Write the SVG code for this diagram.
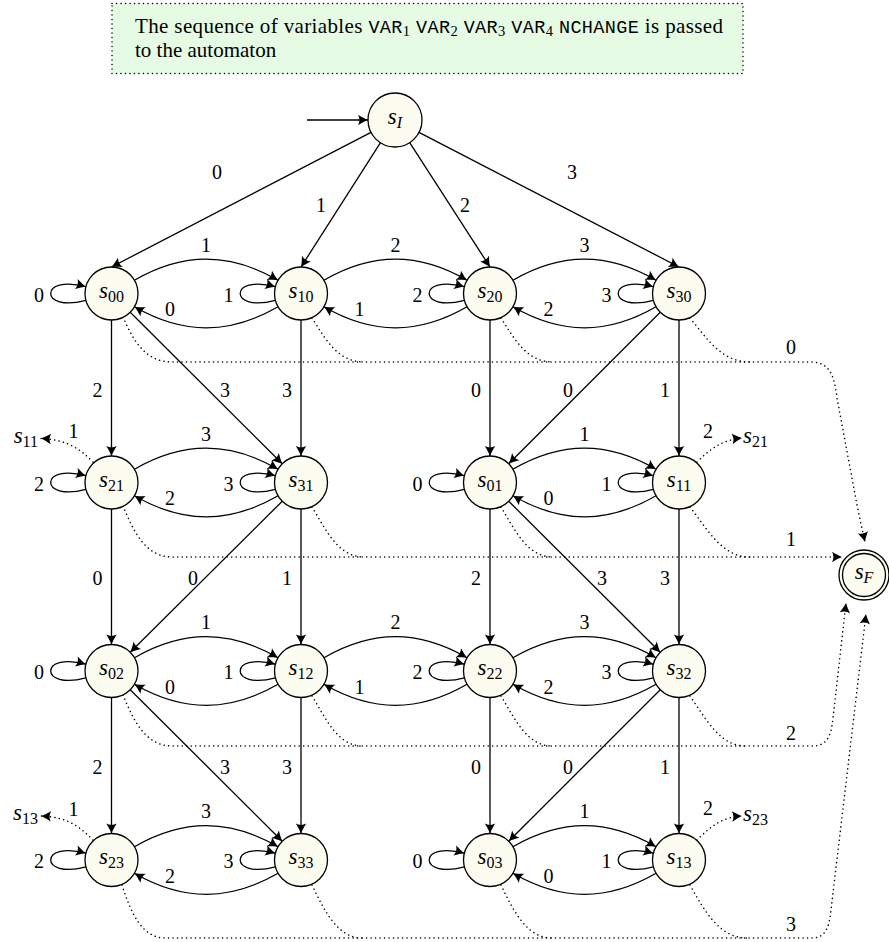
<svg xmlns="http://www.w3.org/2000/svg" width="889" height="942" viewBox="0 0 889 942" font-family="'Liberation Serif','Times New Roman','DejaVu Serif',serif">
<style>
.n{fill:#fcfcf0;stroke:#000;stroke-width:1.3}
.e{fill:none;stroke:#000;stroke-width:1.3;marker-end:url(#ar)}
.d{fill:none;stroke:#000;stroke-width:1.5;stroke-dasharray:0.1 4.4;stroke-linecap:round}
.da{marker-end:url(#ar)}
.l{font-family:'Liberation Serif','Times New Roman','DejaVu Serif',serif;font-size:20px;text-anchor:middle}
.nt{font-family:'Liberation Serif','Times New Roman','DejaVu Serif',serif;font-size:23px;font-style:italic;text-anchor:middle}
.sub{font-size:16px;font-style:normal}
.subi{font-size:16px;font-style:italic}
.bt{font-family:'Liberation Serif','Times New Roman','DejaVu Serif',serif;font-size:21px}
.tt{font-family:'Liberation Mono','Courier New','DejaVu Sans Mono',monospace;font-size:18.5px}
.ts{font-size:14.5px}
</style>
<defs>
<marker id="ar" markerUnits="userSpaceOnUse" orient="auto" markerWidth="14" markerHeight="14" viewBox="-11 -7 14 14" refX="0" refY="0" overflow="visible">
<path d="M0,0 C-2.8,-1 -6,-2.9 -10,-5.2 C-8.1,-2 -8.1,2 -10,5.2 C-6,2.9 -2.8,1 0,0 Z" fill="#000"/>
</marker>
</defs>

<g id="note">
<rect x="112" y="3.5" width="631" height="70" fill="#e5fbe3" stroke="#000" stroke-width="1.5" stroke-dasharray="0.1 4.4" stroke-linecap="round"/>
<text class="bt" x="135" y="32.5" textLength="588" lengthAdjust="spacing">The sequence of variables <tspan class="tt">VAR</tspan><tspan class="ts" dy="3">1</tspan><tspan dy="-3"> </tspan><tspan class="tt">VAR</tspan><tspan class="ts" dy="3">2</tspan><tspan dy="-3"> </tspan><tspan class="tt">VAR</tspan><tspan class="ts" dy="3">3</tspan><tspan dy="-3"> </tspan><tspan class="tt">VAR</tspan><tspan class="ts" dy="3">4</tspan><tspan dy="-3"> </tspan><tspan class="tt">NCHANGE</tspan> is passed</text>
<text class="bt" x="135" y="57">to the automaton</text>
</g>

<g id="connectors">
<path class="e" d="M307 120 L368 120"/>
<path class="e" d="M371 132.4 L111.5 267"/>
<path class="e" d="M380.5 142.7 L301 267"/>
<path class="e" d="M409.7 142.7 L490 267"/>
<path class="e" d="M419 132.4 L679 267"/>
<path class="e" d="M134.45 280.25 C183.15 252.15 229.35 252.15 278.05 280.25"/>
<path class="e" d="M278.05 306.75 C229.35 334.85 183.15 334.85 134.45 306.75"/>
<path class="e" d="M323.95 280.25 C372.65 252.15 418.35 252.15 467.05 280.25"/>
<path class="e" d="M467.05 306.75 C418.35 334.85 372.65 334.85 323.95 306.75"/>
<path class="e" d="M512.95 280.25 C561.65 252.15 607.35 252.15 656.05 280.25"/>
<path class="e" d="M656.05 306.75 C607.35 334.85 561.65 334.85 512.95 306.75"/>
<path class="e" d="M134.45 469.25 C183.15 441.15 229.35 441.15 278.05 469.25"/>
<path class="e" d="M278.05 495.75 C229.35 523.85 183.15 523.85 134.45 495.75"/>
<path class="e" d="M512.95 469.25 C561.65 441.15 607.35 441.15 656.05 469.25"/>
<path class="e" d="M656.05 495.75 C607.35 523.85 561.65 523.85 512.95 495.75"/>
<path class="e" d="M134.45 657.75 C183.15 629.65 229.35 629.65 278.05 657.75"/>
<path class="e" d="M278.05 684.25 C229.35 712.35 183.15 712.35 134.45 684.25"/>
<path class="e" d="M323.95 657.75 C372.65 629.65 418.35 629.65 467.05 657.75"/>
<path class="e" d="M467.05 684.25 C418.35 712.35 372.65 712.35 323.95 684.25"/>
<path class="e" d="M512.95 657.75 C561.65 629.65 607.35 629.65 656.05 657.75"/>
<path class="e" d="M656.05 684.25 C607.35 712.35 561.65 712.35 512.95 684.25"/>
<path class="e" d="M134.45 846.75 C183.15 818.65 229.35 818.65 278.05 846.75"/>
<path class="e" d="M278.05 873.25 C229.35 901.35 183.15 901.35 134.45 873.25"/>
<path class="e" d="M512.95 846.75 C561.65 818.65 607.35 818.65 656.05 846.75"/>
<path class="e" d="M656.05 873.25 C607.35 901.35 561.65 901.35 512.95 873.25"/>
<g class="loops">
<path class="e" transform="translate(111.5 293.5)" d="M-25.6 6.86 C-72.55 19.45 -72.55 -19.45 -25.6 -6.86"/>
<path class="e" transform="translate(301 293.5)" d="M-25.6 6.86 C-72.55 19.45 -72.55 -19.45 -25.6 -6.86"/>
<path class="e" transform="translate(490 293.5)" d="M-25.6 6.86 C-72.55 19.45 -72.55 -19.45 -25.6 -6.86"/>
<path class="e" transform="translate(679 293.5)" d="M-25.6 6.86 C-72.55 19.45 -72.55 -19.45 -25.6 -6.86"/>
<path class="e" transform="translate(111.5 482.5)" d="M-25.6 6.86 C-72.55 19.45 -72.55 -19.45 -25.6 -6.86"/>
<path class="e" transform="translate(301 482.5)" d="M-25.6 6.86 C-72.55 19.45 -72.55 -19.45 -25.6 -6.86"/>
<path class="e" transform="translate(490 482.5)" d="M-25.6 6.86 C-72.55 19.45 -72.55 -19.45 -25.6 -6.86"/>
<path class="e" transform="translate(679 482.5)" d="M-25.6 6.86 C-72.55 19.45 -72.55 -19.45 -25.6 -6.86"/>
<path class="e" transform="translate(111.5 671)" d="M-25.6 6.86 C-72.55 19.45 -72.55 -19.45 -25.6 -6.86"/>
<path class="e" transform="translate(301 671)" d="M-25.6 6.86 C-72.55 19.45 -72.55 -19.45 -25.6 -6.86"/>
<path class="e" transform="translate(490 671)" d="M-25.6 6.86 C-72.55 19.45 -72.55 -19.45 -25.6 -6.86"/>
<path class="e" transform="translate(679 671)" d="M-25.6 6.86 C-72.55 19.45 -72.55 -19.45 -25.6 -6.86"/>
<path class="e" transform="translate(111.5 860)" d="M-25.6 6.86 C-72.55 19.45 -72.55 -19.45 -25.6 -6.86"/>
<path class="e" transform="translate(301 860)" d="M-25.6 6.86 C-72.55 19.45 -72.55 -19.45 -25.6 -6.86"/>
<path class="e" transform="translate(490 860)" d="M-25.6 6.86 C-72.55 19.45 -72.55 -19.45 -25.6 -6.86"/>
<path class="e" transform="translate(679 860)" d="M-25.6 6.86 C-72.55 19.45 -72.55 -19.45 -25.6 -6.86"/>
</g>
<path class="e" d="M111.5 320 L111.5 456"/>
<path class="e" d="M301 320 L301 456"/>
<path class="e" d="M490 320 L490 456"/>
<path class="e" d="M679 320 L679 456"/>
<path class="e" d="M111.5 509 L111.5 644.5"/>
<path class="e" d="M301 509 L301 644.5"/>
<path class="e" d="M490 509 L490 644.5"/>
<path class="e" d="M679 509 L679 644.5"/>
<path class="e" d="M111.5 697.5 L111.5 833.5"/>
<path class="e" d="M301 697.5 L301 833.5"/>
<path class="e" d="M490 697.5 L490 833.5"/>
<path class="e" d="M679 697.5 L679 833.5"/>
<path class="e" d="M130.24 312.24 L282.26 463.76"/>
<path class="e" d="M660.26 312.24 L508.74 463.76"/>
<path class="e" d="M282.26 501.24 L130.24 652.26"/>
<path class="e" d="M508.74 501.24 L660.26 652.26"/>
<path class="e" d="M130.24 689.74 L282.26 841.26"/>
<path class="e" d="M660.26 689.74 L508.74 841.26"/>
<path class="d da" d="M123 317 C133 340 145 362 172 362 L810 362 C828 362 834 372 837 398 L857 505 Q861 524 865 542"/>
<path class="d" d="M312 318 C326 340 338 362 364 362"/>
<path class="d" d="M501 318 C515 340 527 362 553 362"/>
<path class="d" d="M690 318 C708 340 722 362 750 362"/>
<path class="d da" d="M123 506 C133 530 145 557 172 557 L842 557"/>
<path class="d" d="M312 507 C326 530 338 557 364 557"/>
<path class="d" d="M501 507 C515 530 527 557 553 557"/>
<path class="d" d="M690 507 C708 530 722 557 750 557"/>
<path class="d da" d="M123 695 C133 719 145 746 172 746 L812 746 C826 746 831 738 833 718 L846 603"/>
<path class="d" d="M312 696 C326 719 338 746 362 746"/>
<path class="d" d="M501 696 C515 719 527 746 552 746"/>
<path class="d" d="M690 696 C706 719 720 746 745 746"/>
<path class="d da" d="M122 885 C131 913 142 938 165 938 L812 938 C824 938 829 930 831 910 L866 614"/>
<path class="d" d="M312 885 C325 912 338 938 362 938"/>
<path class="d" d="M501 885 C514 912 527 938 552 938"/>
<path class="d" d="M690 885 C705 912 720 938 747 938"/>
<path class="d da" d="M93 462 C80 449 68 440 41 438.5"/>
<path class="d da" d="M93 840 C80 827 68 817 41 816"/>
<path class="d da" d="M697 462 C710 449 722 440 742 438"/>
<path class="d da" d="M697 840 C710 827 722 817 742 816"/>
<g class="labels">
<text class="l" x="217" y="179">0</text>
<text class="l" x="321" y="212">1</text>
<text class="l" x="465" y="212">2</text>
<text class="l" x="572" y="179">3</text>
<text class="l" x="206" y="251.5">1</text>
<text class="l" x="170" y="316">0</text>
<text class="l" x="395.5" y="251.5">2</text>
<text class="l" x="359.5" y="316">1</text>
<text class="l" x="584.5" y="251.5">3</text>
<text class="l" x="548.5" y="316">2</text>
<text class="l" x="206" y="440.5">3</text>
<text class="l" x="170" y="505">2</text>
<text class="l" x="584.5" y="440.5">1</text>
<text class="l" x="548.5" y="505">0</text>
<text class="l" x="206" y="629">1</text>
<text class="l" x="170" y="693.5">0</text>
<text class="l" x="395.5" y="629">2</text>
<text class="l" x="359.5" y="693.5">1</text>
<text class="l" x="584.5" y="629">3</text>
<text class="l" x="548.5" y="693.5">2</text>
<text class="l" x="206" y="818">3</text>
<text class="l" x="170" y="882.5">2</text>
<text class="l" x="584.5" y="818">1</text>
<text class="l" x="548.5" y="882.5">0</text>
<text class="l" x="39" y="301.5">0</text>
<text class="l" x="228.5" y="301.5">1</text>
<text class="l" x="417.5" y="301.5">2</text>
<text class="l" x="606.5" y="301.5">3</text>
<text class="l" x="39" y="490.5">2</text>
<text class="l" x="228.5" y="490.5">3</text>
<text class="l" x="417.5" y="490.5">0</text>
<text class="l" x="606.5" y="490.5">1</text>
<text class="l" x="39" y="679">0</text>
<text class="l" x="228.5" y="679">1</text>
<text class="l" x="417.5" y="679">2</text>
<text class="l" x="606.5" y="679">3</text>
<text class="l" x="39" y="868">2</text>
<text class="l" x="228.5" y="868">3</text>
<text class="l" x="417.5" y="868">0</text>
<text class="l" x="606.5" y="868">1</text>
<text class="l" x="97.5" y="396.5">2</text>
<text class="l" x="287" y="396.5">3</text>
<text class="l" x="476" y="396.5">0</text>
<text class="l" x="665" y="396.5">1</text>
<text class="l" x="97.5" y="585">0</text>
<text class="l" x="287" y="585">1</text>
<text class="l" x="476" y="585">2</text>
<text class="l" x="665" y="585">3</text>
<text class="l" x="97.5" y="773.5">2</text>
<text class="l" x="287" y="773.5">3</text>
<text class="l" x="476" y="773.5">0</text>
<text class="l" x="665" y="773.5">1</text>
<text class="l" x="225" y="396.5">3</text>
<text class="l" x="568" y="396.5">0</text>
<text class="l" x="193" y="585">0</text>
<text class="l" x="602" y="585">3</text>
<text class="l" x="225" y="773.5">3</text>
<text class="l" x="568" y="773.5">0</text>
<text class="l" x="791" y="354">0</text>
<text class="l" x="791" y="546">1</text>
<text class="l" x="791" y="740">2</text>
<text class="l" x="791" y="931">3</text>
<text class="l" x="73.5" y="438">1</text>
<text class="l" x="73.5" y="815.5">1</text>
<text class="l" x="708" y="437.5">2</text>
<text class="l" x="708" y="815">2</text>
</g>
<g class="refs">
<text class="nt" x="38" y="443" style="text-anchor:end">s<tspan class="sub" dy="4">11</tspan></text>
<text class="nt" x="38" y="820" style="text-anchor:end">s<tspan class="sub" dy="4">13</tspan></text>
<text class="nt" x="743" y="443" style="text-anchor:start">s<tspan class="sub" dy="4">21</tspan></text>
<text class="nt" x="743" y="820.5" style="text-anchor:start">s<tspan class="sub" dy="4">23</tspan></text>
</g>
</g>

<g id="sI"><circle class="n" cx="395" cy="120" r="27"/><text class="nt" x="395" y="124">s<tspan class="subi" dy="4">I</tspan></text></g>
<g id="s00"><circle class="n" cx="111.5" cy="293.5" r="26.5"/><text class="nt" x="111.5" y="297.5">s<tspan class="sub" dy="4">00</tspan></text></g>
<g id="s10"><circle class="n" cx="301" cy="293.5" r="26.5"/><text class="nt" x="301" y="297.5">s<tspan class="sub" dy="4">10</tspan></text></g>
<g id="s20"><circle class="n" cx="490" cy="293.5" r="26.5"/><text class="nt" x="490" y="297.5">s<tspan class="sub" dy="4">20</tspan></text></g>
<g id="s30"><circle class="n" cx="679" cy="293.5" r="26.5"/><text class="nt" x="679" y="297.5">s<tspan class="sub" dy="4">30</tspan></text></g>
<g id="s21"><circle class="n" cx="111.5" cy="482.5" r="26.5"/><text class="nt" x="111.5" y="486.5">s<tspan class="sub" dy="4">21</tspan></text></g>
<g id="s31"><circle class="n" cx="301" cy="482.5" r="26.5"/><text class="nt" x="301" y="486.5">s<tspan class="sub" dy="4">31</tspan></text></g>
<g id="s01"><circle class="n" cx="490" cy="482.5" r="26.5"/><text class="nt" x="490" y="486.5">s<tspan class="sub" dy="4">01</tspan></text></g>
<g id="s11"><circle class="n" cx="679" cy="482.5" r="26.5"/><text class="nt" x="679" y="486.5">s<tspan class="sub" dy="4">11</tspan></text></g>
<g id="s02"><circle class="n" cx="111.5" cy="671" r="26.5"/><text class="nt" x="111.5" y="675">s<tspan class="sub" dy="4">02</tspan></text></g>
<g id="s12"><circle class="n" cx="301" cy="671" r="26.5"/><text class="nt" x="301" y="675">s<tspan class="sub" dy="4">12</tspan></text></g>
<g id="s22"><circle class="n" cx="490" cy="671" r="26.5"/><text class="nt" x="490" y="675">s<tspan class="sub" dy="4">22</tspan></text></g>
<g id="s32"><circle class="n" cx="679" cy="671" r="26.5"/><text class="nt" x="679" y="675">s<tspan class="sub" dy="4">32</tspan></text></g>
<g id="s23"><circle class="n" cx="111.5" cy="860" r="26.5"/><text class="nt" x="111.5" y="864">s<tspan class="sub" dy="4">23</tspan></text></g>
<g id="s33"><circle class="n" cx="301" cy="860" r="26.5"/><text class="nt" x="301" y="864">s<tspan class="sub" dy="4">33</tspan></text></g>
<g id="s03"><circle class="n" cx="490" cy="860" r="26.5"/><text class="nt" x="490" y="864">s<tspan class="sub" dy="4">03</tspan></text></g>
<g id="s13"><circle class="n" cx="679" cy="860" r="26.5"/><text class="nt" x="679" y="864">s<tspan class="sub" dy="4">13</tspan></text></g>
<g id="sF"><circle class="n" cx="864" cy="575" r="25"/><circle class="n" cx="864" cy="575" r="21.5"/><text class="nt" x="864" y="579">s<tspan class="subi" dy="4">F</tspan></text></g>
</svg>
